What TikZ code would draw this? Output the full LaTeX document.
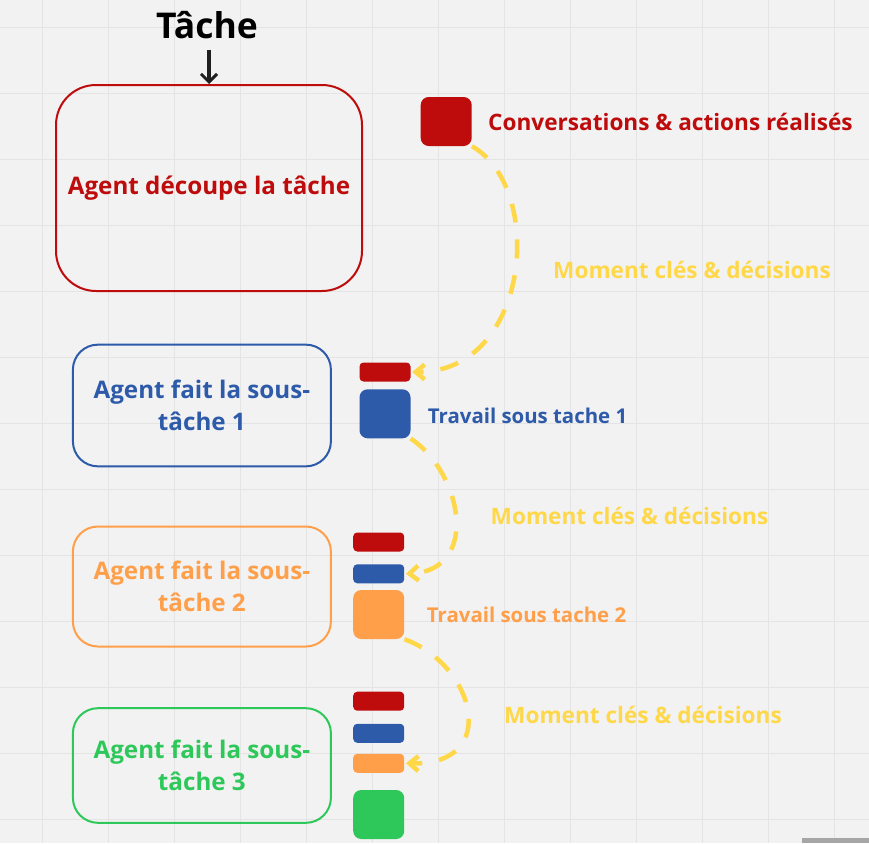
\documentclass[tikz,border=0pt]{standalone}
\usepackage{fontspec}
\setmainfont{Open Sans}
\usetikzlibrary{arrows.meta}
\definecolor{canvas}{HTML}{F2F2F2}
\definecolor{gridline}{HTML}{E4E4E4}
\definecolor{agentred}{HTML}{BE0B0B}
\definecolor{agentblue}{HTML}{2E5AAA}
\definecolor{agentorange}{HTML}{FF9F4A}
\definecolor{agentgreen}{HTML}{2EC85A}
\definecolor{flowyellow}{HTML}{FFD84A}
\definecolor{scrollgray}{HTML}{A6A6A6}
\newcommand{\boxfont}{\bfseries\fontsize{24.2}{32}\selectfont}
\newcommand{\labelfont}{\bfseries\fontsize{22.6}{26}\selectfont}
\newcommand{\worklabelfont}{\bfseries\fontsize{20.4}{24}\selectfont}
\begin{document}
\begin{tikzpicture}[x=1pt,y=-1pt,
  agentbox/.style={draw, line width=2pt, rounded corners=25pt,
    minimum width=258pt, minimum height=120pt, align=center,
    font=\boxfont, inner sep=0pt},
  tile/.style={rounded corners=8pt, minimum width=51pt,
    minimum height=49pt, inner sep=0pt},
  memo/.style={rounded corners=4pt, minimum width=51pt,
    minimum height=19pt, inner sep=0pt},
  flow/.style={draw=flowyellow, line width=4.5pt,
    dash pattern=on 19pt off 17pt,
    -{Straight Barb[length=9pt,width=15pt,line width=4.5pt]}},
  caption/.style={anchor=west, inner sep=0pt, font=\labelfont},
  worklabel/.style={anchor=west, inner sep=0pt, font=\worklabelfont}]

% canvas and grid
\fill[canvas] (0,0) rectangle (869,843);
\useasboundingbox (0,0) rectangle (869,843);
\foreach \k in {0,...,12} {
  \draw[gridline, line width=1.5pt] (42.7+66*\k,0) -- (42.7+66*\k,843);
  \draw[gridline, line width=1.5pt] (0,27.3+66*\k) -- (869,27.3+66*\k);
}
\fill[scrollgray] (802,838) rectangle (869,843);

% task entry
\node[font=\bfseries\fontsize{35.5}{40}\selectfont, inner sep=0pt] (task) at (207,25) {Tâche};
\node[agentbox, draw=agentred, text=agentred, rounded corners=40pt,
  minimum width=306pt, minimum height=206pt] (split) at (209,188) {Agent découpe la tâche};
\coordinate (taskfoot) at (split.north |- 0,50);
\draw[line width=3.2pt, -{Straight Barb[length=8pt,width=16pt,line width=3pt]}, black!88]
  (taskfoot) -- (split.north);

% sub-task agents
\node[agentbox, draw=agentblue, text=agentblue, minimum height=121.7pt] (sub1) at (201.9,405.5) {Agent fait la sous-\\tâche 1};
\node[agentbox, draw=agentorange, text=agentorange] (sub2) at (201.9,586.5) {Agent fait la sous-\\tâche 2};
\node[agentbox, draw=agentgreen, text=agentgreen, minimum height=114.6pt] (sub3) at (201.9,765.5) {Agent fait la sous-\\tâche 3};

% memory tiles and summaries
\node[tile, fill=agentred] (work0) at (446.2,121.5) {};
\node[caption, text=agentred] (work0label) at (488,122) {Conversations \& actions réalisés};

\node[memo, fill=agentred] (m1r) at (385,372) {};
\node[tile, fill=agentblue] (work1) at (385,413.8) {};
\node[worklabel, text=agentblue] (work1label) at (427.7,416) {Travail sous tache 1};

\node[memo, fill=agentred] (m2r) at (378.7,542) {};
\node[memo, fill=agentblue] (m2b) at (378.7,573.8) {};
\node[tile, fill=agentorange] (work2) at (378.7,614.5) {};
\node[worklabel, text=agentorange] (work2label) at (426.7,615) {Travail sous tache 2};

\node[memo, fill=agentred] (m3r) at (378.7,701.2) {};
\node[memo, fill=agentblue] (m3b) at (378.7,733.3) {};
\node[memo, fill=agentorange] (m3o) at (378.7,763.3) {};
\node[tile, fill=agentgreen] (work3) at (378.7,814.5) {};

% key moments carried forward
\draw[flow] (work0.south east) .. controls +(74,42) and +(118,0) .. ([xshift=1.5pt]m1r.east);
\draw[flow] (work1.south east) .. controls +(52,35) and +(74,-4) .. ([xshift=1.5pt]m2b.east);
\draw[flow] (work2.south east) .. controls +(71,26) and +(95,2) .. ([xshift=1.5pt]m3o.east);

\node[caption, text=flowyellow] (key1) at (553,270) {Moment clés \& décisions};
\node[caption, text=flowyellow] (key2) at (490.5,516) {Moment clés \& décisions};
\node[caption, text=flowyellow] (key3) at (504,715) {Moment clés \& décisions};
\end{tikzpicture}
\end{document}
